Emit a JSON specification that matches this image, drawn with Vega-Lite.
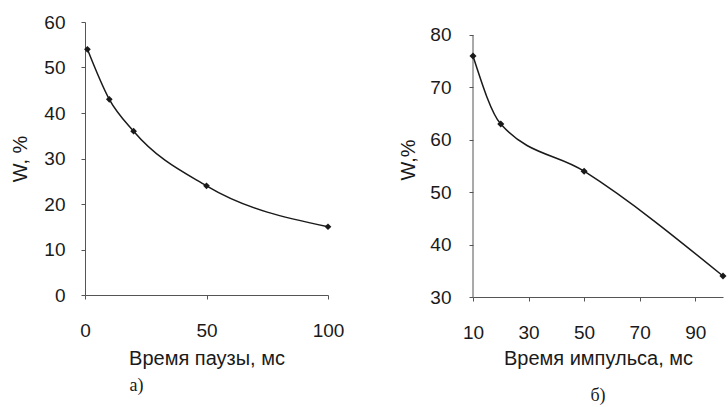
{
  "$schema": "https://vega.github.io/schema/vega-lite/v6.json",
  "background": "white",
  "padding": {"left": 10, "top": 13, "right": 0, "bottom": 0},
  "spacing": 145,
  "bounds": "flush",
  "config": {
    "view": {"stroke": null},
    "axis": {
      "grid": false,
      "labelFont": "Liberation Sans",
      "titleFont": "Liberation Sans",
      "labelFontSize": 19,
      "titleFontSize": 20,
      "titleFontWeight": "normal",
      "labelColor": "#1a1a1a",
      "titleColor": "#1a1a1a",
      "domainColor": "#555",
      "tickColor": "#555",
      "tickSize": 4,
      "labelFlush": false
    }
  },
  "hconcat": [
    {
      "width": 243,
      "height": 273,
      "title": {"text": "а)", "orient": "bottom", "font": "Liberation Serif", "fontSize": 18, "fontWeight": "normal", "color": "#1a1a1a", "dx": -70, "offset": 9},
      "data": {"values": [
        {"t": 1, "W": 54},
        {"t": 10, "W": 43},
        {"t": 20, "W": 36},
        {"t": 50, "W": 24},
        {"t": 100, "W": 15}
      ]},
      "encoding": {
        "x": {"field": "t", "type": "quantitative", "scale": {"domain": [0, 100], "nice": false},
              "axis": {"values": [0, 50, 100], "title": "Время паузы, мс", "labelPadding": 22, "titlePadding": 8}},
        "y": {"field": "W", "type": "quantitative", "scale": {"domain": [0, 60], "nice": false},
              "axis": {"values": [0, 10, 20, 30, 40, 50, 60], "title": "W, %", "labelPadding": 16, "titlePadding": 13}}
      },
      "layer": [
        {"mark": {"type": "line", "interpolate": "monotone", "color": "#1a1a1a", "strokeWidth": 1.5}},
        {"mark": {"type": "point", "shape": "diamond", "filled": true, "color": "#1a1a1a", "size": 45, "opacity": 1}}
      ]
    },
    {
      "width": 250,
      "height": 275,
      "title": {"text": "б)", "orient": "bottom", "font": "Liberation Serif", "fontSize": 18, "fontWeight": "normal", "color": "#1a1a1a", "offset": 19},
      "layer": [
        {
          "data": {"values": [{"x": 10, "y1": 30, "y2": 80}]},
          "mark": {"type": "rule", "color": "#555"},
          "encoding": {
            "x": {"field": "x", "type": "quantitative", "scale": {"domain": [10, 100], "nice": false, "zero": false}},
            "y": {"field": "y1", "type": "quantitative", "scale": {"domain": [30, 82.48], "nice": false, "zero": false}},
            "y2": {"field": "y2"}
          }
        },
        {
          "data": {"values": [
            {"t": 10, "W": 76},
            {"t": 20, "W": 63},
            {"t": 50, "W": 54},
            {"t": 100, "W": 34}
          ]},
          "encoding": {
            "x": {"field": "t", "type": "quantitative", "scale": {"domain": [10, 100], "nice": false, "zero": false},
                  "axis": {"values": [10, 30, 50, 70, 90], "title": "Время импульса, мс", "labelPadding": 22, "titlePadding": 6}},
            "y": {"field": "W", "type": "quantitative", "scale": {"domain": [30, 82.48], "nice": false, "zero": false},
                  "axis": {"values": [30, 40, 50, 60, 70, 80], "title": "W,%", "domain": false, "labelPadding": 18, "titlePadding": 11}}
          },
          "layer": [
            {"mark": {"type": "line", "interpolate": "monotone", "color": "#1a1a1a", "strokeWidth": 1.5}},
            {"mark": {"type": "point", "shape": "diamond", "filled": true, "color": "#1a1a1a", "size": 50, "opacity": 1}}
          ]
        }
      ]
    }
  ]
}
